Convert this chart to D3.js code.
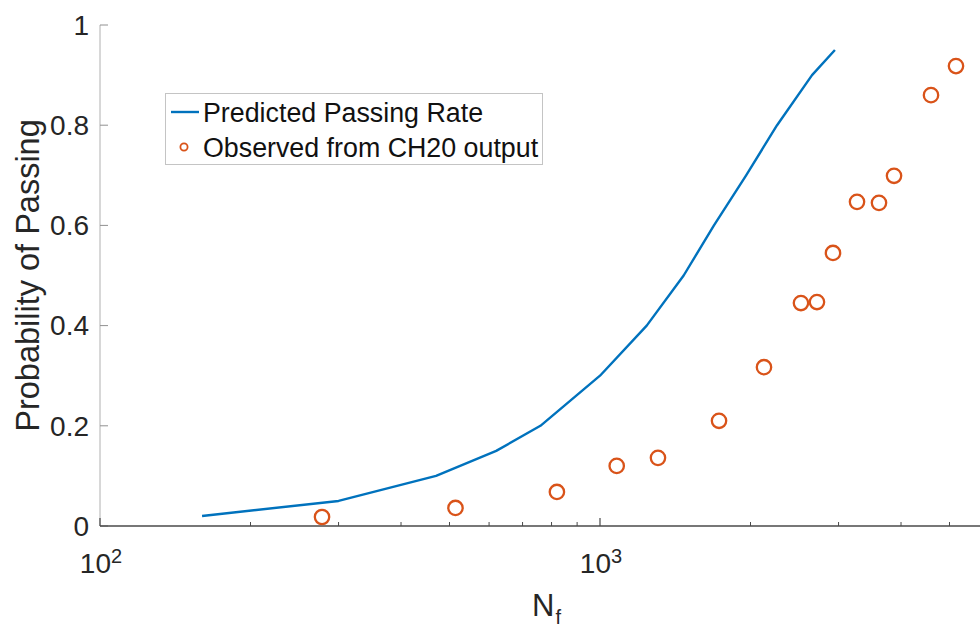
<!DOCTYPE html>
<html>
<head>
<meta charset="utf-8">
<script src="https://cdn.jsdelivr.net/npm/d3@7"></script>
<style>
  html, body { margin: 0; padding: 0; background: #fff; }
  svg { display: block; font-family: "Liberation Sans", Arial, Helvetica, sans-serif; }
</style>
</head>
<body>
<svg id="chart" width="980" height="630"></svg>
<script>
// ---- Data ----
const predictedN    = [160, 300, 470, 620, 760, 1000, 1240, 1470, 1690, 1960, 2260, 2655, 2950];
const predictedProb = [0.02, 0.05, 0.10, 0.15, 0.20, 0.30, 0.40, 0.50, 0.60, 0.70, 0.80, 0.90, 0.95];

const observedN    = [278, 514, 820, 1080, 1306, 1730, 2128, 2523, 2716, 2924, 3266, 3614, 3873, 4592, 5152];
const observedProb = [0.018, 0.036, 0.068, 0.12, 0.136, 0.21, 0.317, 0.445, 0.447, 0.545, 0.647, 0.645, 0.699, 0.86, 0.918];

const yTicks = [0, 0.2, 0.4, 0.6, 0.8, 1];
const yTickLabels = ["0", "0.2", "0.4", "0.6", "0.8", "1"];
const xMajorTicks = [100, 1000];
const xMajorExp = ["2", "3"];
const legendLabels = ["Predicted Passing Rate", "Observed from CH20 output"];
const xLabel = "N", xLabelSub = "f";
const yLabel = "Probability of Passing";

// ---- Layout ----
const svg = d3.select("#chart");
const x = d3.scaleLog().domain([100, 6100]).range([100, 100 + 500 * Math.log10(61)]);
const y = d3.scaleLinear().domain([0, 1]).range([526, 25]);
const blue = "#0072BD", orange = "#D95319", textCol = "#262626";

// y axis line
svg.append("line").attr("x1", 100).attr("x2", 100).attr("y1", y(1)).attr("y2", y(0))
  .attr("stroke", "#b0b0b0").attr("stroke-width", 1);

// y ticks + labels
yTicks.forEach((t, i) => {
  svg.append("line").attr("x1", 100).attr("x2", 108).attr("y1", y(t)).attr("y2", y(t))
    .attr("stroke", "#909090").attr("stroke-width", 1);
  svg.append("text").attr("x", 89).attr("y", y(t)).attr("dy", "0.35em")
    .attr("text-anchor", "end").attr("font-size", 28).attr("fill", textCol)
    .text(yTickLabels[i]);
});

// x axis line
svg.append("line").attr("x1", 100).attr("x2", 980).attr("y1", y(0)).attr("y2", y(0))
  .attr("stroke", "#4a4a4a").attr("stroke-width", 1.5);

// x ticks (major + minor)
const minor = [];
for (let d = 100; d <= 1000; d *= 10) {
  for (let m = 2; m <= 9; m++) minor.push(m * d);
}
minor.filter(v => v <= 6100).forEach(v => {
  svg.append("line").attr("x1", x(v)).attr("x2", x(v)).attr("y1", y(0)).attr("y2", y(0) - 4)
    .attr("stroke", "#4a4a4a").attr("stroke-width", 1);
});
xMajorTicks.forEach((v, i) => {
  svg.append("line").attr("x1", x(v)).attr("x2", x(v)).attr("y1", y(0)).attr("y2", y(0) - 8)
    .attr("stroke", "#4a4a4a").attr("stroke-width", 1.2);
  const t = svg.append("text").attr("x", x(v) + 1).attr("y", 573)
    .attr("text-anchor", "middle").attr("font-size", 28).attr("fill", textCol);
  t.append("tspan").text("10");
  t.append("tspan").attr("font-size", 20).attr("dy", -10).text(xMajorExp[i]);
});

// Axis labels
const xl = svg.append("text").attr("x", 532).attr("y", 616)
  .attr("font-size", 31).attr("fill", textCol);
xl.append("tspan").text(xLabel);
xl.append("tspan").attr("font-size", 20).attr("dy", 8).attr("dx", 1).text(xLabelSub);

svg.append("text").attr("transform", `translate(39,${(y(0) + y(1)) / 2}) rotate(-90)`)
  .attr("text-anchor", "middle").attr("font-size", 32.5).attr("fill", textCol)
  .text(yLabel);

// Predicted line
const lineData = predictedN.map((n, i) => [n, predictedProb[i]]);
svg.append("path").datum(lineData)
  .attr("d", d3.line().x(d => x(d[0])).y(d => y(d[1])))
  .attr("fill", "none").attr("stroke", blue).attr("stroke-width", 2.4)
  .attr("stroke-linejoin", "round");

// Observed points
const ptData = observedN.map((n, i) => [n, observedProb[i]]);
svg.append("g").selectAll("circle").data(ptData).join("circle")
  .attr("cx", d => x(d[0])).attr("cy", d => y(d[1])).attr("r", 7.2)
  .attr("fill", "none").attr("stroke", orange).attr("stroke-width", 2.3);

// Legend
const lg = svg.append("g");
lg.append("rect").attr("x", 165.5).attr("y", 93.5).attr("width", 377).attr("height", 71)
  .attr("fill", "#fff").attr("stroke", "#c4c4c4").attr("stroke-width", 1);
lg.append("line").attr("x1", 171).attr("x2", 199).attr("y1", 112).attr("y2", 112)
  .attr("stroke", blue).attr("stroke-width", 2.4);
lg.append("circle").attr("cx", 184).attr("cy", 147).attr("r", 3.6)
  .attr("fill", "none").attr("stroke", orange).attr("stroke-width", 1.8);
lg.append("text").attr("x", 203).attr("y", 122).attr("font-size", 26.8).attr("fill", "#111")
  .text(legendLabels[0]);
lg.append("text").attr("x", 203).attr("y", 157).attr("font-size", 26.8).attr("fill", "#111")
  .text(legendLabels[1]);
</script>
</body>
</html>
